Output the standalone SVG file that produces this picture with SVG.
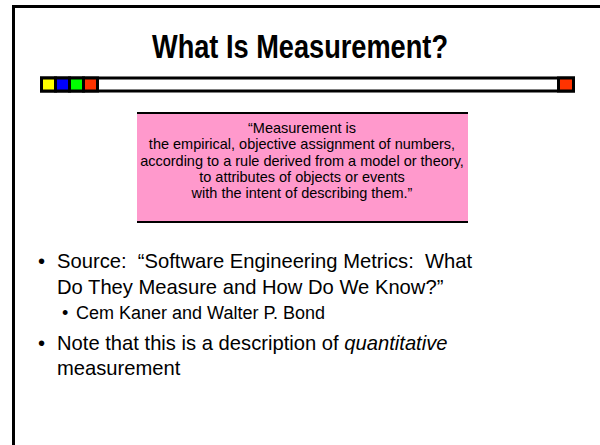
<svg xmlns="http://www.w3.org/2000/svg" width="600" height="445" viewBox="0 0 600 445">
<style>
.t{font-family:"Liberation Sans",Arial,sans-serif;fill:#000}
.title{font-size:34px;font-weight:bold;text-anchor:middle}
.q{font-size:14.5px;text-anchor:middle}
.b1{font-size:20.2px}
.b2{font-size:18px}
.sq{stroke:#000;stroke-width:3}
</style>
<rect x="0" y="0" width="600" height="445" fill="#fff"/>
<g id="frame">
<path d="M13.5,450 V6.5 H610" fill="none" stroke="#000" stroke-width="3"/>
</g>
<g id="title">
<text class="t title" x="300" y="58" textLength="296" lengthAdjust="spacingAndGlyphs">What Is Measurement?</text>
</g>
<g id="bar">
<rect class="sq" x="41.5" y="78" width="532" height="13" fill="#fff"/>
<rect class="sq" x="41.5" y="78" width="14" height="13" fill="#ffff00"/>
<rect class="sq" x="55.5" y="78" width="14" height="13" fill="#0000ff"/>
<rect class="sq" x="69.5" y="78" width="14" height="13" fill="#00ff00"/>
<rect class="sq" x="83.5" y="78" width="14" height="13" fill="#ff3300"/>
<rect class="sq" x="558.5" y="78" width="15" height="13" fill="#ff3300"/>
</g>
<g id="quote">
<rect x="137" y="113" width="331" height="109" fill="#ff99cc"/>
<line x1="137" y1="113" x2="468" y2="113" stroke="#000" stroke-width="2"/>
<line x1="137" y1="222" x2="468" y2="222" stroke="#000" stroke-width="2"/>
<text class="t q" x="302" y="133">“Measurement is</text>
<text class="t q" x="302" y="149">the empirical, objective assignment of numbers,</text>
<text class="t q" x="302" y="166">according to a rule derived from a model or theory,</text>
<text class="t q" x="302" y="182">to attributes of objects or events</text>
<text class="t q" x="302" y="198">with the intent of describing them.”</text>
</g>
<g id="bullets">
<text class="t b1" x="38" y="268">•</text>
<text class="t b1" x="57" y="268" xml:space="preserve">Source:  “Software Engineering Metrics:  What</text>
<text class="t b1" x="57" y="294">Do They Measure and How Do We Know?”</text>
<text class="t b2" x="62" y="319">•</text>
<text class="t b2" x="76" y="319">Cem Kaner and Walter P. Bond</text>
<text class="t b1" x="38" y="350">•</text>
<text class="t b1" x="57" y="350">Note that this is a description of <tspan font-style="italic">quantitative</tspan></text>
<text class="t b1" x="57" y="375">measurement</text>
</g>
</svg>
